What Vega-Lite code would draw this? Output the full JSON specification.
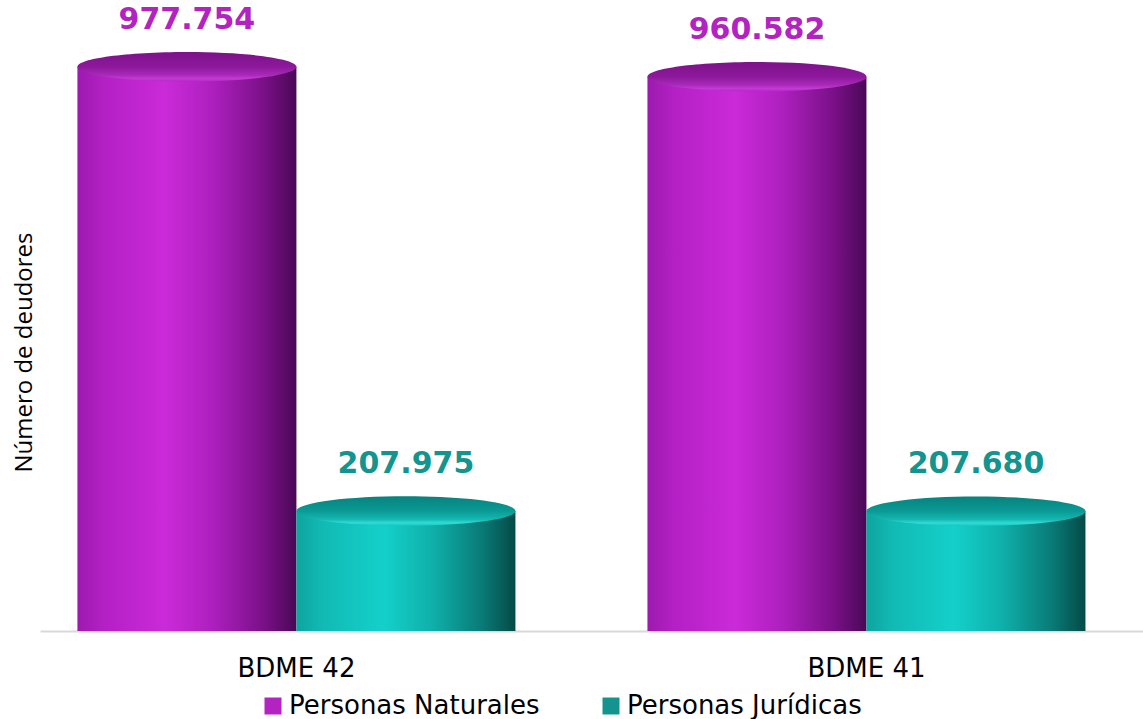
{
  "$schema": "https://vega.github.io/schema/vega-lite/v6.json",
  "width": 1103,
  "height": 577,
  "autosize": {"type": "none"},
  "padding": {"left": 40, "top": 54, "right": 0, "bottom": 88},
  "background": "white",
  "config": {
    "view": {"stroke": null},
    "locale": {"number": {"decimal": ",", "thousands": ".", "grouping": [3], "currency": ["$", ""]}}
  },
  "data": {
    "values": [
      {"grupo": "BDME 42", "tipo": "Personas Naturales", "deudores": 977754},
      {"grupo": "BDME 42", "tipo": "Personas Jurídicas", "deudores": 207975},
      {"grupo": "BDME 41", "tipo": "Personas Naturales", "deudores": 960582},
      {"grupo": "BDME 41", "tipo": "Personas Jurídicas", "deudores": 207680}
    ]
  },
  "encoding": {
    "x": {
      "field": "grupo",
      "type": "nominal",
      "sort": ["BDME 42", "BDME 41"],
      "scale": {"paddingInner": 0.2316, "paddingOuter": 0.0833, "align": 0.394},
      "axis": {
        "title": null,
        "labelAngle": 0,
        "labelFont": "DejaVu Sans",
        "labelFontSize": 26,
        "labelColor": "#000000",
        "labelPadding": 24,
        "ticks": false,
        "grid": false,
        "domain": true,
        "domainColor": "#d9d9d9",
        "domainWidth": 2
      }
    },
    "xOffset": {
      "field": "tipo",
      "type": "nominal",
      "sort": ["Personas Naturales", "Personas Jurídicas"],
      "scale": {"paddingInner": 0, "paddingOuter": 0}
    },
    "y": {
      "field": "deudores",
      "type": "quantitative",
      "scale": {"domain": [0, 1000000], "nice": false},
      "axis": {
        "title": "Número de deudores",
        "titleFont": "Open Sans",
        "titleFontSize": 24,
        "titleFontWeight": "normal",
        "titleColor": "#000000",
        "titlePadding": 4,
        "titleY": 298,
        "labels": false,
        "ticks": false,
        "domain": false,
        "grid": false
      }
    }
  },
  "layer": [
    {
      "transform": [{"filter": "datum.tipo === 'Personas Naturales'"}],
      "mark": {
        "type": "bar",
        "fill": {
          "gradient": "linear", "x1": 0, "x2": 1, "y1": 0, "y2": 0,
          "stops": [
            {"offset": 0, "color": "#9c1aae"},
            {"offset": 0.12, "color": "#b320c4"},
            {"offset": 0.4, "color": "#cb2ad8"},
            {"offset": 0.62, "color": "#ad1fbe"},
            {"offset": 0.85, "color": "#7a1088"},
            {"offset": 1, "color": "#4a0856"}
          ]
        }
      }
    },
    {
      "transform": [{"filter": "datum.tipo === 'Personas Jurídicas'"}],
      "mark": {
        "type": "bar",
        "fill": {
          "gradient": "linear", "x1": 0, "x2": 1, "y1": 0, "y2": 0,
          "stops": [
            {"offset": 0, "color": "#0ea49e"},
            {"offset": 0.12, "color": "#12bab4"},
            {"offset": 0.4, "color": "#14d0ca"},
            {"offset": 0.62, "color": "#0fb0aa"},
            {"offset": 0.85, "color": "#097a76"},
            {"offset": 1, "color": "#044a47"}
          ]
        }
      }
    },
    {
      "transform": [{"filter": "datum.tipo === 'Personas Naturales'"}],
      "mark": {
        "type": "point",
        "filled": true,
        "opacity": 1,
        "size": 47961,
        "shape": "M-1,0A1,0.135,0,1,1,1,0A1,0.135,0,1,1,-1,0Z",
        "fill": {
          "gradient": "linear", "x1": 0, "x2": 0, "y1": 0, "y2": 1,
          "stops": [
            {"offset": 0, "color": "#7c1288"},
            {"offset": 0.5, "color": "#8e189c"},
            {"offset": 0.78, "color": "#a82ab8"},
            {"offset": 0.9, "color": "#c43ad4"},
            {"offset": 1, "color": "#b824c8"}
          ]
        }
      }
    },
    {
      "transform": [{"filter": "datum.tipo === 'Personas Jurídicas'"}],
      "mark": {
        "type": "point",
        "filled": true,
        "opacity": 1,
        "size": 47961,
        "shape": "M-1,0A1,0.135,0,1,1,1,0A1,0.135,0,1,1,-1,0Z",
        "fill": {
          "gradient": "linear", "x1": 0, "x2": 0, "y1": 0, "y2": 1,
          "stops": [
            {"offset": 0, "color": "#08827e"},
            {"offset": 0.5, "color": "#0a9a95"},
            {"offset": 0.78, "color": "#14b8b2"},
            {"offset": 0.9, "color": "#30dcd6"},
            {"offset": 1, "color": "#16c4be"}
          ]
        }
      }
    },
    {
      "mark": {
        "type": "text",
        "font": "DejaVu Sans",
        "fontWeight": "bold",
        "fontSize": 30,
        "baseline": "middle",
        "align": "center",
        "dy": -47
      },
      "encoding": {
        "text": {"field": "deudores", "type": "quantitative", "format": ",d"},
        "color": {
          "field": "tipo",
          "type": "nominal",
          "scale": {
            "domain": ["Personas Naturales", "Personas Jurídicas"],
            "range": ["#b323c2", "#14948e"]
          },
          "legend": {
            "orient": "none",
            "legendX": 220,
            "legendY": 639,
            "direction": "horizontal",
            "title": null,
            "symbolType": "square",
            "symbolSize": 289,
            "symbolStrokeWidth": 0,
            "symbolOpacity": 1,
            "labelFont": "DejaVu Sans",
            "labelFontSize": 26,
            "labelColor": "#000000",
            "labelOffset": 3,
            "labelLimit": 0,
            "columnPadding": 58,
            "padding": 0
          }
        }
      }
    }
  ]
}
